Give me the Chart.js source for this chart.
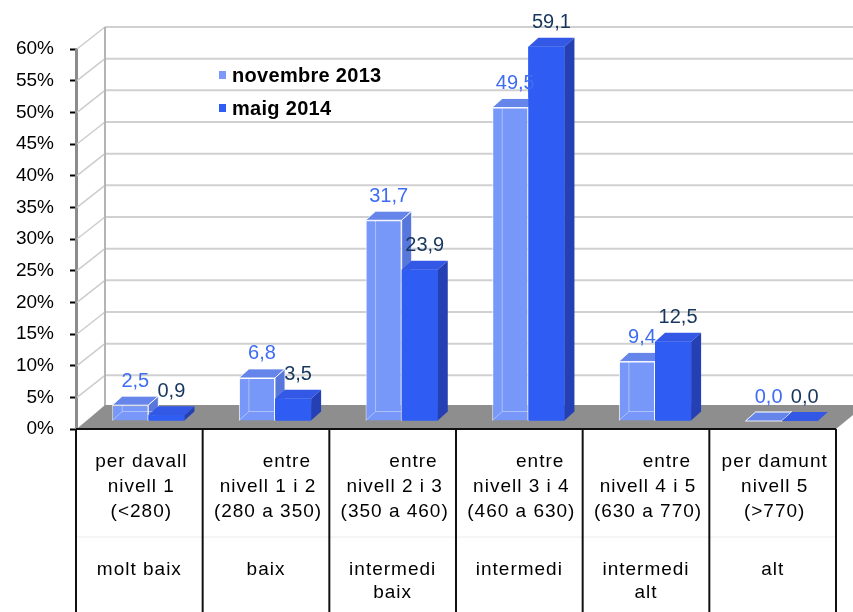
<!DOCTYPE html>
<html lang="ca">
<head>
  <meta charset="UTF-8" />
  <title>Nivells de rendiment</title>
  <script src="https://cdn.jsdelivr.net/npm/chart.js"></script>
  <style>
    html, body { margin: 0; padding: 0; background: #fff; }
  </style>
</head>
<body>
  <canvas id="levelsChart" width="853" height="612"></canvas>

  <script>
    // data
    const categories = ["molt baix", "baix", "intermedi baix", "intermedi", "intermedi alt", "alt"];
    const rangeLabels = [
      ["per davall", "nivell 1", "(<280)"],
      ["      entre", "nivell 1 i 2", "(280 a 350)"],
      ["      entre", "nivell 2 i 3", "(350 a 460)"],
      ["      entre", "nivell 3 i 4", "(460 a 630)"],
      ["      entre", "nivell 4 i 5", "(630 a 770)"],
      ["per damunt", "nivell 5", "(>770)"]
    ];
    const levelLabels = [
      ["molt baix"],
      ["baix"],
      ["intermedi", "baix"],
      ["intermedi"],
      ["intermedi", "alt"],
      ["alt"]
    ];
    const seriesNames = ["novembre 2013", "maig 2014"];
    const nov2013 = [2.5, 6.8, 31.7, 49.5, 9.4, 0.0];
    const maig2014 = [0.9, 3.5, 23.9, 59.1, 12.5, 0.0];
    const yTicks = [0, 5, 10, 15, 20, 25, 30, 35, 40, 45, 50, 55, 60];

    const FONT = "'Liberation Sans', Arial, sans-serif";
    const WALL_DX = 29, WALL_DY = 22;   // depth of the back wall
    const BAR_DX = 10, BAR_DY = 9;      // depth of each bar
    const SHIFT_X = 9, SHIFT_Y = -8;    // bars sit half way into the floor

    const faces = [
      { front: "#7797f9", top: "#6585ea", side: "#5777dc", label: "#3e6df2" },
      { front: "#2f5df3", top: "#3358e6", side: "#2440b4", label: "#17365d" }
    ];

    const fmt = v => v.toFixed(1).replace(".", ",");

    function drawFaces(ctx, bar, f, seeThrough) {
      const x0 = bar.x - bar.width / 2, x1 = bar.x + bar.width / 2;
      const top = bar.y, base = bar.base;
      ctx.save();
      ctx.strokeStyle = "rgba(255,255,255,0.85)";
      ctx.lineWidth = 1;
      ctx.fillStyle = f.top;
      ctx.beginPath();
      ctx.moveTo(x0, top);
      ctx.lineTo(x1, top);
      ctx.lineTo(x1 + BAR_DX, top - BAR_DY);
      ctx.lineTo(x0 + BAR_DX, top - BAR_DY);
      ctx.closePath();
      ctx.fill();
      if (seeThrough) ctx.stroke();
      ctx.fillStyle = f.side;
      ctx.beginPath();
      ctx.moveTo(x1, top);
      ctx.lineTo(x1 + BAR_DX, top - BAR_DY);
      ctx.lineTo(x1 + BAR_DX, base - BAR_DY);
      ctx.lineTo(x1, base);
      ctx.closePath();
      ctx.fill();
      if (seeThrough) {
        ctx.stroke();
        // faint hidden edges
        ctx.strokeStyle = "rgba(255,255,255,0.4)";
        ctx.beginPath();
        ctx.moveTo(x0, base);
        ctx.lineTo(x0 + BAR_DX, base - BAR_DY);
        ctx.lineTo(x1 + BAR_DX, base - BAR_DY);
        ctx.moveTo(x0 + BAR_DX, base - BAR_DY);
        ctx.lineTo(x0 + BAR_DX, Math.min(base - BAR_DY, top));
        ctx.stroke();
      }
      ctx.restore();
    }

    const box3d = {
      id: "box3d",
      beforeDatasetsDraw(chart) {
        const { ctx, chartArea: a, scales: { y } } = chart;
        ctx.save();
        // side wall + back wall grid
        yTicks.forEach(v => {
          const py = y.getPixelForValue(v);
          ctx.strokeStyle = "#cccccc";
          ctx.lineWidth = 1.5;
          ctx.beginPath();
          ctx.moveTo(a.left + 1, py);
          ctx.lineTo(a.left + WALL_DX, py - WALL_DY);
          ctx.stroke();
          ctx.lineWidth = 2;
          ctx.strokeStyle = "#d0d0d0";
          ctx.beginPath();
          ctx.moveTo(a.left + WALL_DX, py - WALL_DY);
          ctx.lineTo(chart.width, py - WALL_DY);
          ctx.stroke();
        });
        ctx.strokeStyle = "#b4b4b4";
        ctx.lineWidth = 2;
        ctx.beginPath();
        ctx.moveTo(a.left + WALL_DX, a.top - WALL_DY);
        ctx.lineTo(a.left + WALL_DX, a.bottom - WALL_DY);
        ctx.stroke();
        // floor
        ctx.fillStyle = "#8e8e8e";
        ctx.beginPath();
        ctx.moveTo(a.left + 1, a.bottom);
        ctx.lineTo(a.right, a.bottom);
        ctx.lineTo(a.right + WALL_DX, a.bottom - WALL_DY - 2);
        ctx.lineTo(a.left + WALL_DX, a.bottom - WALL_DY - 2);
        ctx.closePath();
        ctx.fill();
        ctx.restore();

        ctx.save();
        ctx.translate(SHIFT_X, SHIFT_Y);
      },
      afterDatasetDraw(chart, args) {
        // dataset 0 is painted last; add its depth, then repaint the
        // second series so it sits in front of the first one's side
        if (args.index !== 0) return;
        const { ctx } = chart;
        args.meta.data.forEach(bar => drawFaces(ctx, bar, faces[0], true));
        chart.getDatasetMeta(1).data.forEach(bar => {
          bar.draw(ctx);
          drawFaces(ctx, bar, faces[1], false);
        });
      },
      afterDatasetsDraw(chart) {
        const { ctx } = chart;
        ctx.save();
        ctx.font = "20px " + FONT;
        ctx.textAlign = "center";
        ctx.textBaseline = "middle";
        chart.data.datasets.forEach((ds, i) => {
          ctx.fillStyle = faces[i].label;
          chart.getDatasetMeta(i).data.forEach((bar, j) => {
            ctx.fillText(fmt(ds.data[j]), bar.x + BAR_DX / 2, bar.y - BAR_DY - 15);
          });
        });
        ctx.restore();
        ctx.restore(); // undo the bar shift
      },
      afterDraw(chart) {
        const { ctx, chartArea: a, scales: { x } } = chart;
        const colW = (a.right - a.left) / categories.length;
        ctx.save();
        // table under the plot
        ctx.strokeStyle = "#ececec";
        ctx.lineWidth = 1;
        ctx.beginPath();
        ctx.moveTo(a.left, 537);
        ctx.lineTo(a.right, 537);
        ctx.stroke();
        ctx.strokeStyle = "#111";
        ctx.lineWidth = 2;
        ctx.beginPath();
        ctx.moveTo(a.left, a.bottom);
        ctx.lineTo(a.right, a.bottom);
        for (let i = 0; i <= categories.length; i++) {
          const px = a.left + i * colW;
          ctx.moveTo(px, a.bottom);
          ctx.lineTo(px, chart.height);
        }
        ctx.stroke();

        ctx.fillStyle = "#000";
        ctx.font = "19px " + FONT;
        ctx.letterSpacing = "1px";
        ctx.textAlign = "center";
        ctx.textBaseline = "middle";
        categories.forEach((c, i) => {
          const cx = x.getPixelForValue(i);
          rangeLabels[i].forEach((t, k) => ctx.fillText(t, cx + 2, 462 + k * 25));
          levelLabels[i].forEach((t, k) => ctx.fillText(t, cx, 570 + k * 23));
        });

        // legend inside the plot
        ctx.letterSpacing = "0.3px";
        ctx.font = "bold 20px " + FONT;
        ctx.textAlign = "left";
        [75, 108].forEach((ly, i) => {
          ctx.fillStyle = i === 0 ? "#7b98fa" : "#2f5df3";
          ctx.fillRect(219, ly - 4, 7, 8);
          ctx.fillStyle = "#000";
          ctx.fillText(seriesNames[i], 232, ly + 1);
        });
        ctx.restore();
      }
    };

    new Chart(document.getElementById("levelsChart"), {
      type: "bar",
      data: {
        labels: categories,
        datasets: [
          {
            label: seriesNames[0],
            data: nov2013,
            backgroundColor: faces[0].front,
            borderColor: "rgba(255,255,255,0.85)",
            borderWidth: 1,
            clip: false
          },
          {
            label: seriesNames[1],
            data: maig2014,
            backgroundColor: faces[1].front,
            borderWidth: 0,
            clip: false
          }
        ]
      },
      options: {
        responsive: false,
        devicePixelRatio: 1,
        animation: false,
        categoryPercentage: 0.57,
        barPercentage: 1.0,
        layout: { padding: { top: 49, right: 17, bottom: 183, left: 0 } },
        plugins: {
          legend: { display: false },
          tooltip: { enabled: false }
        },
        scales: {
          x: { display: false },
          y: {
            min: 0,
            max: 60,
            afterFit: s => { s.width = 76; },
            ticks: {
              stepSize: 5,
              color: "#000",
              padding: 16,
              font: { family: FONT, size: 19 },
              callback: v => v + "%"
            },
            grid: { drawOnChartArea: false, color: "#000", tickLength: 6, tickWidth: 2 },
            border: { color: "#8c8c8c", width: 3 }
          }
        }
      },
      plugins: [box3d]
    });
  </script>
</body>
</html>
